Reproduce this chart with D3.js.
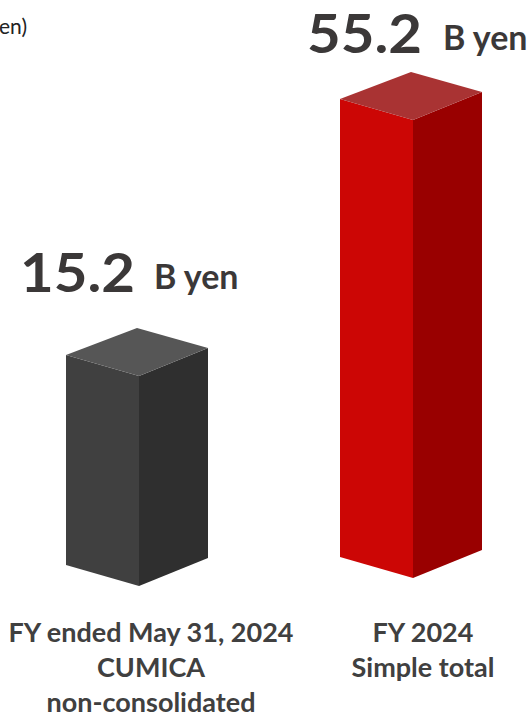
<!DOCTYPE html>
<html><head><meta charset="utf-8">
<script src="https://cdn.jsdelivr.net/npm/d3@7"></script>
<style>html,body{margin:0;padding:0;background:#fff;overflow:hidden}svg{display:block}text{font-family:Lato,"Open Sans",sans-serif}</style>
</head><body><svg id="c" width="531" height="717"></svg>
<script>
const categories = ["CUMICA", "Simple total"];
const values = [15.2, 55.2];
const valueLabels = ["15.2", "55.2"];
const unitLabel = "B yen";
const axisFragment = "en)";
const categoryLines = [["FY ended May 31, 2024", "CUMICA", "non-consolidated"], ["FY 2024", "Simple total"]];
const frontColors = ["#404040", "#cc0605"];
const sideColors = ["#2f2f2f", "#990000"];
const topColors = ["#565656", "#a93333"];

const svg = d3.select("#c");
const x = d3.scalePoint().domain(categories).range([139, 413]);
const h = d3.scaleLinear().domain([15.2, 55.2]).range([210, 458]);
const base = d3.scaleLinear().domain([139, 413]).range([586, 578]);
const frontW = 73, sideW = 69, leftDrop = 21, rightDrop = 29;
const line = d3.line();

categories.forEach((c, i) => {
  const fx = x(c), by = base(fx), ty = by - h(values[i]);
  const lx = fx - frontW, rx = fx + sideW;
  const g = svg.append("g");
  g.append("path").attr("fill", frontColors[i]).attr("d", line([[lx, ty - leftDrop], [fx, ty], [fx, by], [lx, by - leftDrop]]) + "Z");
  g.append("path").attr("fill", sideColors[i]).attr("d", line([[fx, ty], [rx, ty - rightDrop + 1], [rx, by - rightDrop + 1], [fx, by]]) + "Z");
  g.append("path").attr("fill", topColors[i]).attr("d", line([[lx, ty - leftDrop], [fx - 2, ty - 48], [rx, ty - rightDrop + 1], [fx, ty]]) + "Z");
  const vy = i ? ty - 67 : ty - 84;
  svg.append("text").attr("x", fx - 119 + (i ? 13 : 0)).attr("y", vy).attr("fill", "#3b3838").attr("font-weight", 700).attr("font-size", 54)
    .attr("textLength", 115).attr("lengthAdjust", "spacingAndGlyphs").text(valueLabels[i]);
  svg.append("text").attr("x", fx + 15 + (i ? 15 : 0)).attr("y", vy - 3).attr("fill", "#3b3838").attr("font-weight", 700).attr("font-size", 34).text(unitLabel);
  const lab = svg.append("text").attr("text-anchor", "middle").attr("fill", "#404040").attr("font-weight", 700).attr("font-size", 27);
  categoryLines[i].forEach((s, k) => lab.append("tspan").attr("x", i ? 423 : 151).attr("y", 642 + k * 35).text(s));
});
svg.append("text").attr("x", 27).attr("y", 34).attr("text-anchor", "end").attr("fill", "#222").attr("font-size", 21).text(axisFragment);
</script></body></html>
